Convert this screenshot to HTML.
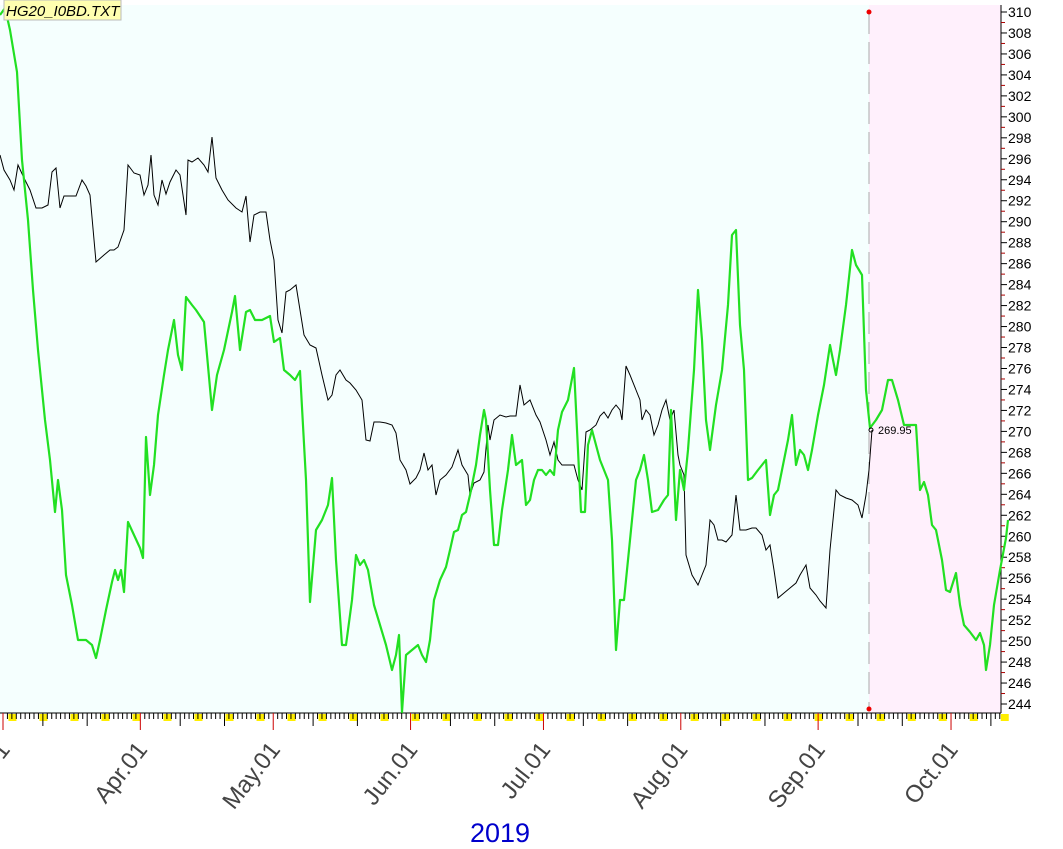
<!DOCTYPE html>
<html><head><meta charset="utf-8"><style>
html,body{margin:0;padding:0;background:#fff;}
svg{display:block;font-family:"Liberation Sans",sans-serif;}
</style></head><body>
<svg id="s" width="1063" height="849" xmlns="http://www.w3.org/2000/svg">
<rect x="0" y="5" width="869" height="708" fill="#f5fffe"/>
<rect x="869" y="5" width="132" height="708" fill="#fff0fc"/>
<line x1="869" y1="12" x2="869" y2="710" stroke="#aaa" stroke-width="1" stroke-dasharray="22,8"/>
<circle cx="869" cy="12" r="2.5" fill="#e00"/>
<circle cx="869" cy="709" r="2.5" fill="#e00"/>
<g id="ax"></g>
<polyline id="blk" fill="none" stroke="#000" stroke-width="1"/>
<polyline id="grn" fill="none" stroke="#22e022" stroke-width="2.2" stroke-linejoin="round"/>
<circle cx="871" cy="430" r="2" fill="none" stroke="#000" stroke-width="1"/>
<text x="878" y="434" font-size="11" fill="#000">269.95</text>
<rect x="4" y="0" width="117" height="20" fill="#ffffb0" stroke="#bbb" stroke-width="1"/>
<text x="6" y="16" font-size="15" font-style="italic" fill="#000">HG20_I0BD.TXT</text>
<text x="500" y="842" font-size="27" fill="#0000cc" text-anchor="middle">2019</text>
</svg>
<script>
var ns="http://www.w3.org/2000/svg",ax=document.getElementById('ax');
function el(t,a,txt){var e=document.createElementNS(ns,t);for(var k in a)e.setAttribute(k,a[k]);if(txt)e.textContent=txt;ax.appendChild(e);return e;}
el('line',{x1:1001,y1:5,x2:1001,y2:713,stroke:'#000','stroke-width':1});
for(var v=310;v>=244;v-=1){var y=12+(310-v)*10.485;
 if(v%2==0){el('line',{x1:1001,y1:y,x2:1007,y2:y,stroke:'#000'});el('text',{x:1008,y:y+5,'font-size':14,fill:'#000'},String(v));}
 else el('line',{x1:1001,y1:y,x2:1005,y2:y,stroke:'#a00'});}
el('line',{x1:0,y1:713,x2:1001,y2:713,stroke:'#000'});
var mlen=[31,30,31,30,31,31,30,31],mn=['Mar','Apr','May','Jun','Jul','Aug','Sep','Oct'];
var d=0,dow=5;
for(var m=0;m<8;m++){for(var i=1;i<=mlen[m];i++){var x=3+d*4.43;if(x>1000)break;
 var wd=(dow+d)%7;
 if(wd==6){el('rect',{x:x+1,y:714,width:8,height:7,fill:'#ffee00'});}
 if(i==1){el('line',{x1:x,y1:713,x2:x,y2:730,stroke:'#c00'});
  el('text',{x:x+8,y:750,'font-size':24,fill:'#444','text-anchor':'end',transform:'rotate(-52 '+(x+8)+' 750)'},mn[m]+'.01');}
 else if(i==10||i==20)el('line',{x1:x,y1:713,x2:x,y2:726,stroke:'#000'});
 else el('line',{x1:x,y1:713,x2:x,y2:719,stroke:'#000'});
 d++;}}
var g="0,15 5,8 10,30 17,72 22,160 28,220 33,290 38,350 45,420 50,460 55,512 58,480 62,510 66,575 72,605 78,640 86,640 92,645 96,658 100,640 106,610 112,582 115,570 118,580 121,570 124,592 128,522 134,535 140,548 143,558 146,437 150,495 154,465 158,415 164,375 168,350 174,320 178,355 182,370 186,297 192,305 196,310 204,322 212,410 217,375 224,350 232,312 235,296 240,350 246,312 250,310 255,320 262,320 270,316 274,342 280,338 284,370 290,375 295,380 300,371 306,480 310,602 316,530 322,520 328,505 332,478 336,560 342,645 346,645 352,600 356,555 360,565 364,560 368,570 374,605 380,625 386,645 392,670 396,655 399,635 402,712 406,655 412,650 418,645 422,655 426,662 430,640 434,600 440,580 446,567 450,550 454,532 458,530 462,515 466,512 470,495 476,465 480,435 484,410 486,420 490,490 494,545 498,545 502,510 508,470 512,435 516,465 522,460 526,505 530,500 534,480 538,470 542,470 546,475 550,470 554,475 558,430 562,412 568,400 574,368 578,450 581,512 585,512 588,445 592,430 596,445 600,460 604,470 608,480 612,540 616,650 620,600 624,600 628,560 632,520 636,480 640,470 644,455 648,480 652,512 658,510 664,500 668,495 671,410 676,520 680,470 684,490 688,450 694,370 698,290 702,340 706,420 710,450 716,405 722,370 728,305 732,235 736,230 740,325 744,370 748,480 752,478 758,470 762,465 766,460 770,515 774,495 778,490 782,470 788,440 792,415 796,465 800,450 804,455 808,470 812,450 818,415 824,385 830,345 836,375 840,350 846,305 852,250 856,265 862,275 866,390 870,428 876,420 882,410 888,380 892,380 898,400 904,425 910,425 916,425 920,490 924,482 928,495 932,525 936,530 942,560 946,590 950,592 956,573 960,605 964,625 970,632 976,640 980,633 984,645 986,670 990,645 994,605 1000,570 1006,538 1008,520";
var b="0,155 4,170 10,180 14,190 18,165 24,178 30,190 36,208 42,208 48,205 52,172 56,168 60,208 64,196 70,196 76,196 82,180 86,186 90,195 96,262 104,255 110,250 114,250 118,247 124,230 128,165 134,173 140,175 144,195 148,185 151,155 154,195 158,205 162,180 166,194 170,182 176,170 180,175 186,215 188,160 192,162 198,158 204,165 208,172 212,137 216,178 222,190 228,200 236,208 242,212 246,196 250,242 254,215 260,212 266,212 270,240 274,260 278,320 282,333 286,292 290,290 296,285 300,310 304,335 310,345 316,348 322,375 328,400 332,395 336,375 340,370 346,380 350,383 356,390 362,400 366,440 370,441 374,422 380,422 386,423 392,425 396,433 400,460 406,470 410,484 416,478 420,470 424,453 428,470 432,465 436,495 440,480 446,475 452,467 458,450 462,465 468,475 470,495 474,483 480,480 484,472 488,425 490,440 494,420 500,415 506,417 510,416 516,416 520,385 524,405 530,400 536,415 540,422 546,440 550,455 554,442 558,460 562,465 568,465 574,465 578,480 582,490 586,432 590,430 596,425 600,416 604,412 608,418 612,410 616,405 620,410 622,420 626,366 630,375 636,390 640,400 642,420 646,410 650,415 654,435 658,425 662,410 666,400 670,420 674,410 678,455 680,465 684,475 686,555 692,575 698,585 702,575 706,565 710,520 714,525 718,540 722,540 726,542 732,535 736,495 740,530 746,530 752,528 756,528 762,535 766,550 770,545 774,570 778,598 784,593 790,588 796,583 800,575 806,565 810,588 816,595 820,601 826,608 830,550 836,490 840,495 846,498 852,500 858,505 862,518 866,495 869,470 872,430";
document.getElementById('grn').setAttribute('points',g);
document.getElementById('blk').setAttribute('points',b);
</script>
</body></html>
